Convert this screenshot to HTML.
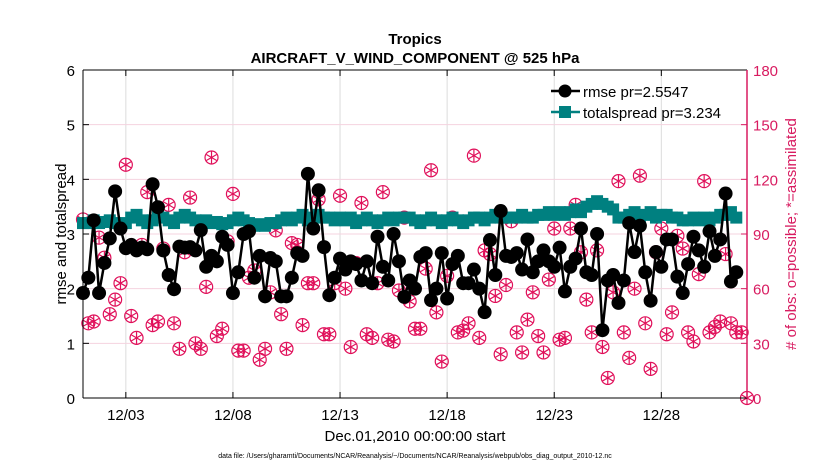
<!DOCTYPE html>
<html><head><meta charset="utf-8"><style>
body{margin:0;background:#fff;font-family:"Liberation Sans",sans-serif}
svg text{font-family:"Liberation Sans",sans-serif}
</style></head><body>
<svg id="c" width="830" height="470" xmlns="http://www.w3.org/2000/svg">
<rect width="830" height="470" fill="#fff"/>
<text x="415" y="44" font-size="15" font-weight="bold" text-anchor="middle">Tropics</text>
<text x="415" y="63" font-size="15" font-weight="bold" text-anchor="middle">AIRCRAFT_V_WIND_COMPONENT @ 525 hPa</text>
<g id="grid"></g><g id="series"></g><g id="axes"></g>
<text transform="translate(66,234) rotate(-90)" font-size="15" text-anchor="middle">rmse and totalspread</text>
<text transform="translate(796,234) rotate(-90)" font-size="15" fill="#d81b60" text-anchor="middle"># of obs: o=possible; *=assimilated</text>
<text x="415" y="441" font-size="15" text-anchor="middle">Dec.01,2010 00:00:00 start</text>
<text x="415" y="458" font-size="7" text-anchor="middle">data file: /Users/gharamti/Documents/NCAR/Reanalysis/~/Documents/NCAR/Reanalysis/webpub/obs_diag_output_2010-12.nc</text>
<g id="legend">
<line x1="551" y1="91" x2="580" y2="91" stroke="#000" stroke-width="2.5"/><circle cx="565" cy="91" r="6.5" fill="#000"/>
<text x="583" y="97" font-size="15">rmse pr=2.5547</text>
<line x1="551" y1="112" x2="580" y2="112" stroke="#008080" stroke-width="2.5"/><rect x="559" y="106" width="12" height="12" fill="#008080"/>
<text x="583" y="118" font-size="15">totalspread pr=3.234</text>
</g>
</svg>
<script>
const xTickLabels=["12/03","12/08","12/13","12/18","12/23","12/28"];
const xTickDays=[2,7,12,17,22,27];
const yTicks=[0,1,2,3,4,5,6];
const y2Ticks=[0,30,60,90,120,150,180];
const rmse=[1.92,2.2,3.25,1.92, 2.47,2.92,3.78,3.1, 2.74,2.8,2.7,2.75, 2.72,3.91,3.49,2.7, 2.25,1.99,2.77,2.75,
2.76,2.7,3.07,2.4, 2.6,2.5,2.95,2.8, 1.92,2.3,3.0,3.05, 2.2,2.6,1.86,2.56, 2.5,1.86,1.86,2.2,
2.65,2.6,4.1,3.1, 3.8,2.76,1.88,2.2, 2.55,2.35,2.5,2.45, 2.15,2.5,2.1,2.95, 2.4,2.15,3.0,2.5,
1.85,2.15,2.0,2.58, 2.65,1.79,2.0,2.65, 1.82,2.45,2.6,2.1, 2.1,2.35,2.0,1.57, 2.89,2.25,3.42,2.6,
2.58,2.65,2.35,2.9, 2.3,2.5,2.7,2.5, 2.4,2.75,1.95,2.4, 2.55,3.1,2.3,2.25, 3.0,1.24,2.15,2.25,
1.74,2.15,3.2,2.67, 3.15,2.3,1.78,2.67, 2.4,2.9,2.9,2.22, 1.92,2.45,2.95,2.7, 2.4,3.05,2.6,2.9, 3.74,2.13,2.3];
const spread=[3.2,3.2,3.25,3.2,3.22,3.25,3.2,3.18,3.2,3.3,3.35,3.25,3.2,3.25,3.45,3.3,3.25,3.2,3.3,3.35,
3.3,3.25,3.2,3.25,3.2,3.22,3.18,3.2,3.25,3.3,3.25,3.2,3.15,3.18,3.15,3.2,3.2,3.25,3.3,3.25,
3.3,3.35,3.25,3.3,3.35,3.3,3.3,3.25,3.3,3.25,3.3,3.2,3.25,3.3,3.25,3.2,3.25,3.3,3.25,3.3,
3.3,3.3,3.25,3.2,3.25,3.3,3.25,3.2,3.25,3.3,3.25,3.2,3.25,3.3,3.3,3.25,3.3,3.35,3.3,3.3,
3.3,3.3,3.35,3.3,3.3,3.35,3.35,3.4,3.35,3.4,3.35,3.4,3.45,3.4,3.5,3.55,3.6,3.55,3.5,3.45,
3.3,3.3,3.35,3.4,3.3,3.35,3.4,3.3,3.35,3.35,3.3,3.3,3.25,3.25,3.3,3.25,3.3,3.25,3.3,3.35,3.35,3.4,3.3];
const obs=[98,41,42,88,77,46,54,63,128,45,33,84,113,40,42,82,106,41,27,80,110,30,
27,61,132,34,38,86,112,26,26,66,70,21,27,58,92,46,27,85,84,40,
63,63,109,35,35,63,111,60,28,74,107,35,33,63,113,32,31,59,99,53,38,
38,71,125,47,20,67,99,36,37,41,133,
33,81,79,56,24,62,97,36,25,43,58,34,25,65,93,32,33,93,106,80,54,36,81,
28,11,58,119,36,22,60,122,41,16,80,93,35,47,89,82,36,31,68,119,36,39,42,79,41,36,36,0];
const NS="http://www.w3.org/2000/svg";
const L=83,R=747,T=70,B=398;
const xS=d=>L+d/31*(R-L);
const yS=v=>B-v/6*(B-T);
const y2S=v=>B-v/180*(B-T);
function mk(tag,attrs,parent){const e=document.createElementNS(NS,tag);for(const k in attrs)e.setAttribute(k,attrs[k]);parent.appendChild(e);return e;}
const grid=document.getElementById('grid'),ser=document.getElementById('series'),ax=document.getElementById('axes');
xTickDays.forEach((d,i)=>{
 const g=mk('line',{x1:xS(d),x2:xS(d),y1:T,y2:B,stroke:'#dcdcdc','stroke-width':1},grid);
 
 
 mk('line',{x1:xS(d),x2:xS(d),y1:B,y2:B-6,stroke:'#000'},ax);
 mk('line',{x1:xS(d),x2:xS(d),y1:T,y2:T+6,stroke:'#000'},ax);
 const t=mk('text',{x:xS(d),y:B+22,'font-size':15,'text-anchor':'middle'},ax);t.textContent=xTickLabels[i];
 
 
});
yTicks.forEach(v=>{
 if(v>0&&v<6){const g=mk('line',{x1:L,x2:R,y1:yS(v),y2:yS(v),stroke:'#f4d3df','stroke-width':1},grid);
 
 }
 mk('line',{x1:L,x2:L+6,y1:yS(v),y2:yS(v),stroke:'#000'},ax);
 const t=mk('text',{x:L-8,y:yS(v)+6,'font-size':15,'text-anchor':'end'},ax);t.textContent=v;
 
 
});
y2Ticks.forEach(v=>{
 mk('line',{x1:R-6,x2:R,y1:y2S(v),y2:y2S(v),stroke:'#d81b60'},ax);
 const t=mk('text',{x:R+6,y:y2S(v)+6,'font-size':15,fill:'#d81b60'},ax);t.textContent=v;
 
 
});
mk('line',{x1:L,x2:R,y1:T,y2:T,stroke:'#000'},ax);
mk('line',{x1:L,x2:R,y1:B,y2:B,stroke:'#000'},ax);
mk('line',{x1:L,x2:L,y1:T,y2:B,stroke:'#000'},ax);
mk('line',{x1:R,x2:R,y1:T,y2:B,stroke:'#d81b60','stroke-width':1.5},ax);
obs.forEach((v,i)=>{
 const x=xS(i*0.25),y=y2S(v);
 const g=mk('g',{stroke:'#e0105a','stroke-width':1.2,fill:'none'},ser);
 
 
 mk('circle',{cx:x,cy:y,r:6.5},g);
 for(let a=0;a<3;a++){const an=a*Math.PI/3+Math.PI/2;mk('line',{x1:x-6*Math.cos(an),y1:y-6*Math.sin(an),x2:x+6*Math.cos(an),y2:y+6*Math.sin(an)},g);}
});
const sp=mk('polyline',{points:spread.map((v,i)=>xS(i*0.25)+','+yS(v)).join(' '),fill:'none',stroke:'#008080','stroke-width':2.5},ser);


spread.forEach((v,i)=>{const r=mk('rect',{x:xS(i*0.25)-6,y:yS(v)-6,width:12,height:12,fill:'#008080'},ser);
 
 });
const rl=mk('polyline',{points:rmse.map((v,i)=>xS(i*0.25)+','+yS(v)).join(' '),fill:'none',stroke:'#000','stroke-width':2.5},ser);


rmse.forEach((v,i)=>{const c=mk('circle',{cx:xS(i*0.25),cy:yS(v),r:7,fill:'#000'},ser);
 
 });
</script>
</body></html>
